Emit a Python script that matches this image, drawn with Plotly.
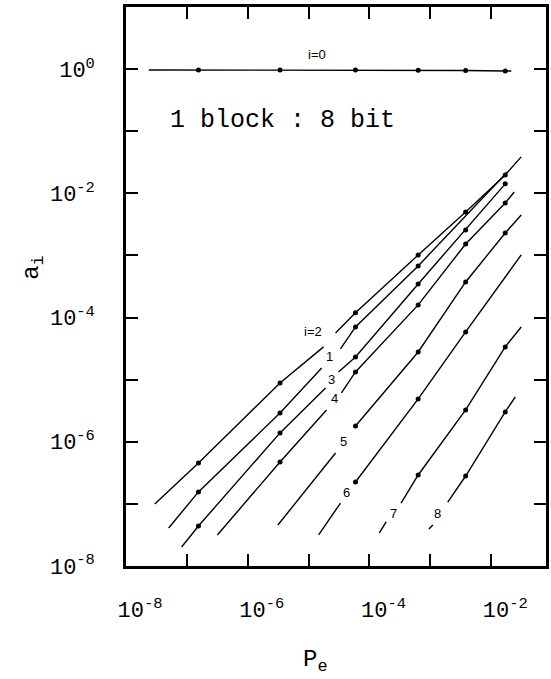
import plotly.graph_objects as go

# Pe values at which the computed points were plotted (markers)
PE_COL = [1.55e-7, 3.39e-6, 5.89e-5, 6.31e-4, 3.80e-3, 1.70e-2]

# a_i versus Pe for each i; None marks the break where the curve label sits
pe0 = [2.37e-8, 1.55e-7, 3.39e-6, 5.89e-5, 6.31e-4, 3.80e-3, 1.70e-2, 2.14e-2]
a0 = [0.97, 0.97, 0.97, 0.97, 0.96, 0.95, 0.93, 0.93]

pe1 = [5.02e-8, 1.55e-7, 3.39e-6, 1.64e-5, None, 3.34e-5, 5.89e-5, 6.31e-4, 1.84e-2]
a1 = [4.09e-8, 1.56e-7, 2.91e-6, 1.54e-5, None, 3.12e-5, 7.06e-5, 6.78e-4, 2.21e-2]

pe2 = [2.97e-8, 1.55e-7, 3.39e-6, 1.76e-5, None, 2.77e-5, 5.89e-5, 6.31e-4, 3.80e-3, 1.70e-2, 3.11e-2]
a2 = [1.00e-7, 4.57e-7, 8.85e-6, 3.37e-5, None, 5.65e-5, 1.19e-4, 1.02e-3, 5.01e-3, 1.98e-2, 3.86e-2]

pe3 = [8.20e-8, 1.55e-7, 3.39e-6, 1.90e-5, None, 3.10e-5, 5.89e-5, 6.31e-4, 3.80e-3, 1.70e-2]
a3 = [2.02e-8, 4.41e-8, 1.39e-6, 7.35e-6, None, 1.33e-5, 2.32e-5, 3.48e-4, 2.58e-3, 1.42e-2]

pe4 = [3.17e-7, 3.39e-6, 1.97e-5, None, 3.47e-5, 5.89e-5, 6.31e-4, 3.80e-3, 1.70e-2, 2.39e-2]
a4 = [3.16e-8, 4.73e-7, 3.25e-6, None, 6.11e-6, 1.33e-5, 1.60e-4, 1.53e-3, 7.00e-3, 1.05e-2]

pe5 = [3.13e-6, 2.77e-5, None, 5.89e-5, 6.31e-4, 3.80e-3, 1.70e-2, 3.11e-2]
a5 = [4.57e-8, 6.61e-7, None, 1.79e-6, 2.79e-5, 3.74e-4, 2.30e-3, 4.49e-3]

pe6 = [1.46e-5, 3.34e-5, None, 5.89e-5, 6.31e-4, 3.80e-3, 3.11e-2]
a6 = [3.16e-8, 1.03e-7, None, 2.25e-7, 4.89e-6, 5.86e-5, 1.02e-3]

pe7 = [1.45e-4, 1.88e-4, None, 3.30e-4, 6.31e-4, 3.80e-3, 1.70e-2, 3.11e-2]
a7 = [3.40e-8, 5.12e-8, None, 1.03e-7, 2.92e-7, 3.25e-6, 3.37e-5, 7.06e-5]

pe8 = [9.46e-4, 1.10e-3, None, 1.93e-3, 3.80e-3, 1.70e-2, 2.48e-2]
a8 = [3.94e-8, 4.57e-8, None, 1.07e-7, 2.81e-7, 3.02e-6, 5.26e-6]

SERIES = [(pe0, a0), (pe1, a1), (pe2, a2), (pe3, a3), (pe4, a4),
          (pe5, a5), (pe6, a6), (pe7, a7), (pe8, a8)]

# curve labels: (text, log10 Pe, log10 a)
LABELS = [("i=0", -4.87, 0.23), ("i=2", -4.92, -4.23), ("1", -4.66, -4.63),
          ("3", -4.62, -5.0), ("4", -4.57, -5.3), ("5", -4.43, -6.0),
          ("6", -4.38, -6.82), ("7", -3.61, -7.15), ("8", -2.88, -7.15)]

X_TICKS = [1e-8, 1e-7, 1e-6, 1e-5, 1e-4, 1e-3, 1e-2]
X_TEXT = ["10<sup>-8</sup>", "", "10<sup>-6</sup>", "", "10<sup>-4</sup>", "", "10<sup>-2</sup>"]
Y_TICKS = [1e-8, 1e-7, 1e-6, 1e-5, 1e-4, 1e-3, 1e-2, 1e-1, 1e0]
Y_TEXT = ["10<sup>-8</sup>", "", "10<sup>-6</sup>", "", "10<sup>-4</sup>", "",
          "10<sup>-2</sup>", "", "10<sup>0</sup>"]

MONO = "Liberation Mono, Courier New, monospace"

fig = go.Figure()
for pe, a in SERIES:
    fig.add_trace(go.Scatter(x=pe, y=a, mode="lines", connectgaps=False,
                             line=dict(color="black", width=1.4),
                             hoverinfo="skip", showlegend=False))
    mx, my = [], []
    for p, v in zip(pe, a):
        if p is not None and any(abs(p / c - 1) < 1e-6 for c in PE_COL):
            mx.append(p)
            my.append(v)
    fig.add_trace(go.Scatter(x=mx, y=my, mode="markers",
                             marker=dict(color="black", size=5),
                             hoverinfo="skip", showlegend=False))

axis_common = dict(type="log", showline=True, linecolor="black", linewidth=2.5,
                   mirror="ticks", ticks="inside", ticklen=12, tickwidth=1.5,
                   tickcolor="black", showgrid=False, zeroline=False,
                   tickfont=dict(family=MONO, size=22, color="black"))

fig.update_xaxes(range=[-8, -1.1], tickmode="array", tickvals=X_TICKS, ticktext=X_TEXT,
                 ticklabelstandoff=22, ticklabelshift=14, **axis_common)
fig.update_yaxes(range=[-8, 1], tickmode="array", tickvals=Y_TICKS, ticktext=Y_TEXT,
                 ticklabelstandoff=24, **axis_common)

annotations = []
for text, lx, ly in LABELS:
    annotations.append(dict(x=lx, y=ly, xref="x", yref="y", text=text, showarrow=False,
                            xanchor="center", yanchor="middle",
                            font=dict(family="Liberation Sans, Arial", size=13, color="black")))
annotations.append(dict(x=-5.43, y=-0.83, xref="x", yref="y", text="1 block : 8 bit",
                        showarrow=False, xanchor="center", yanchor="middle",
                        font=dict(family=MONO, size=25, color="black")))
annotations.append(dict(x=-0.222, y=0.533, xref="paper", yref="paper", text="a<sub>i</sub>",
                        textangle=-90, showarrow=False, xanchor="center", yanchor="middle",
                        font=dict(family=MONO, size=24, color="black")))
annotations.append(dict(x=0.449, y=-0.17, xref="paper", yref="paper", text="P<sub>e</sub>",
                        showarrow=False, xanchor="center", yanchor="middle",
                        font=dict(family=MONO, size=24, color="black")))

fig.update_layout(width=551, height=679, margin=dict(l=126, r=2, t=7, b=113),
                  paper_bgcolor="white", plot_bgcolor="white",
                  annotations=annotations)

fig.write_html("out.html")
